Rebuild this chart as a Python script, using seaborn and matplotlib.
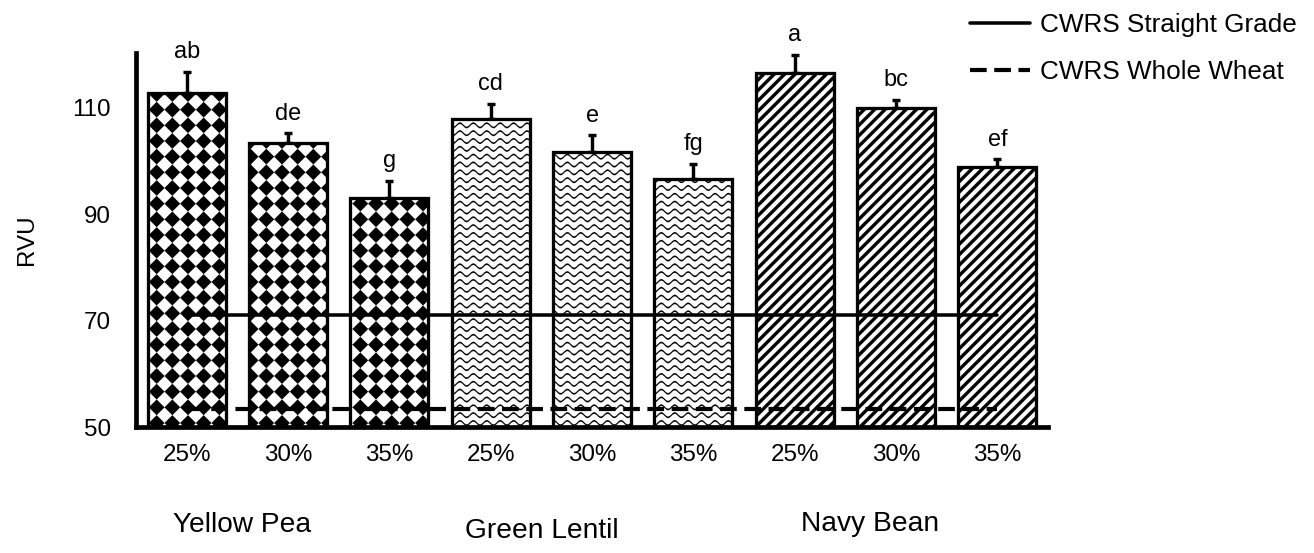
import numpy as np
import pandas as pd
import matplotlib
matplotlib.use("Agg")
import matplotlib.pyplot as plt
import matplotlib.hatch as mhatch
from matplotlib.path import Path
import seaborn as sns

# ---------------- data ----------------
pulses = ["Yellow Pea", "Green Lentil", "Navy Bean"]
levels = ["25%", "30%", "35%"]
rvu_mean = [112.8, 103.3, 93.0, 107.8, 101.7, 96.6, 116.5, 110.0, 98.8]
rvu_err = [3.9, 1.9, 3.2, 2.9, 3.1, 2.8, 3.4, 1.5, 1.5]
letters = ["ab", "de", "g", "cd", "e", "fg", "a", "bc", "ef"]
reference_names = ["CWRS Straight Grade", "CWRS Whole Wheat"]
reference_rvu = [71.05, 53.3]
yticks = [50, 70, 90, 110]


# ---------------- custom fill patterns ----------------
MOVE, LINE, CLOSE = Path.MOVETO, Path.LINETO, Path.CLOSEPOLY


class DiamondGrid(mhatch.HatchPatternBase):
    """Square grid of filled diamonds ('o' in the hatch string)."""
    cells = 6
    scale = 0.5

    def __init__(self, hatch, density):
        n = self.cells + 1
        self.num_vertices = n * n * 5 if "o" in hatch else 0

    def set_vertices_and_codes(self, vertices, codes):
        step = 1.0 / self.cells
        r = self.scale * step
        shape = np.array([[0, -r], [r, 0], [0, r], [-r, 0], [0, -r]])
        k = 0
        for i in range(self.cells + 1):
            for j in range(self.cells + 1):
                vertices[k:k + 5] = shape + [i * step, j * step]
                codes[k:k + 5] = [MOVE, LINE, LINE, LINE, CLOSE]
                k += 5


class WavyLines(mhatch.HatchPatternBase):
    """Thin horizontal sine waves ('O' in the hatch string)."""
    rows = 12
    periods = 7
    samples = 16
    amp = 0.023
    thick = 0.017

    def __init__(self, hatch, density):
        self.npts = self.periods * self.samples + 1
        self.num_vertices = ((self.rows + 1) * (2 * self.npts + 1)
                             if "O" in hatch else 0)

    def set_vertices_and_codes(self, vertices, codes):
        x = np.linspace(0, 1, self.npts)
        wave = self.amp * np.sin(2 * np.pi * self.periods * x)
        half = self.thick / 2
        n = 2 * self.npts + 1
        k = 0
        for j in range(self.rows + 1):
            y0 = j / self.rows
            top = np.column_stack([x, y0 + wave + half])
            bot = np.column_stack([x[::-1], y0 + wave[::-1] - half])
            vertices[k:k + n] = np.vstack([top, bot, top[:1]])
            codes[k:k + n] = [MOVE] + [LINE] * (n - 2) + [CLOSE]
            k += n


class DiagonalBands(mhatch.HatchPatternBase):
    """Bold '/' stripes ('.' in the hatch string)."""
    bands = 9
    frac = 0.45

    def __init__(self, hatch, density):
        self.num_vertices = 2 * self.bands * 5 if "." in hatch else 0

    def set_vertices_and_codes(self, vertices, codes):
        w = self.frac / self.bands
        k = 0
        for i in range(-self.bands, self.bands):
            x0 = i / self.bands
            vertices[k:k + 5] = [[x0, 0], [x0 + w, 0], [x0 + w + 1, 1],
                                 [x0 + 1, 1], [x0, 0]]
            codes[k:k + 5] = [MOVE, LINE, LINE, LINE, CLOSE]
            k += 5


mhatch._hatch_types[:] = [
    t for t in mhatch._hatch_types
    if t not in (mhatch.SmallCircles, mhatch.LargeCircles, mhatch.SmallFilledCircles)
] + [DiamondGrid, WavyLines, DiagonalBands]

pulse_hatch = {"Yellow Pea": "o", "Green Lentil": "O", "Navy Bean": "."}

# ---------------- style ----------------
sns.set_theme(style="white")
plt.rcParams["font.family"] = ["Liberation Sans", "DejaVu Sans"]
plt.rcParams["hatch.linewidth"] = 0.05
plt.rcParams["axes.edgecolor"] = "black"
plt.rcParams["text.color"] = "black"
plt.rcParams["axes.labelcolor"] = "black"
plt.rcParams["xtick.color"] = "black"
plt.rcParams["ytick.color"] = "black"

DPI = 94
fig = plt.figure(figsize=(1314 / DPI, 553 / DPI), dpi=DPI)
ax = fig.add_axes([0.1035, 0.2278, 0.6941, 0.6764])

df = pd.DataFrame({
    "pulse": np.repeat(pulses, len(levels)),
    "level": np.tile(levels, len(pulses)),
    "rvu": rvu_mean,
    "err": rvu_err,
    "letter": letters,
})
df["key"] = df["pulse"] + " " + df["level"]
positions = np.arange(len(df))

sns.barplot(data=df, x="key", y="rvu", order=list(df["key"]), errorbar=None,
            color="white", saturation=1, edgecolor="black", linewidth=2.5,
            width=0.77, ax=ax, zorder=2)

for bar, pulse in zip(ax.patches, df["pulse"]):
    bar.set_hatch(pulse_hatch[pulse])
    bar.set_edgecolor("black")

# one-sided (upper) error bars
ax.errorbar(positions, df["rvu"], yerr=[np.zeros(len(df)), df["err"]],
            fmt="none", ecolor="black", elinewidth=2.6, capsize=3.4,
            capthick=2.6, zorder=1.5)

# significance letters above the error bars
for x, top, lab in zip(positions, df["rvu"] + df["err"], df["letter"]):
    ax.annotate(lab, (x, top), xytext=(0, 10.5), textcoords="offset points",
                ha="center", va="baseline", fontsize=18)

# wheat flour reference levels
ref_styles = [dict(linestyle="-", linewidth=2.7),
              dict(linestyle=(0, (4.0, 1.8)), linewidth=3.2)]
handles = []
for name, val, style in zip(reference_names, reference_rvu, ref_styles):
    ln, = ax.plot([positions[0], positions[-1]], [val, val], color="black",
                  label=name, zorder=3, **style)
    handles.append(ln)

ax.legend(handles=handles, labels=reference_names, loc="upper left",
          bbox_to_anchor=(970 / 1314, 0.977), bbox_transform=fig.transFigure,
          frameon=False, fontsize=20, borderpad=0, borderaxespad=0,
          handlelength=2.3, handletextpad=0.4, labelspacing=0.89)

# axes
ax.set_xlim(-0.5, len(df) - 0.5)
ax.set_ylim(50, 120.3)
ax.set_yticks(yticks)
ax.set_xticks(positions)
ax.set_xticklabels(df["level"])
ax.tick_params(axis="x", length=0, pad=13, labelsize=18.5)
ax.tick_params(axis="y", length=0, pad=19.5, labelsize=18.5)
ax.set_xlabel("")
ax.set_ylabel("RVU", fontsize=18.5)
ax.yaxis.set_label_coords(-0.1195, 0.5)
ax.yaxis.label.set_va("center")

for side in ("top", "right"):
    ax.spines[side].set_visible(False)
for side in ("left", "bottom"):
    ax.spines[side].set_linewidth(3.6)
    ax.spines[side].set_capstyle("projecting")
    ax.spines[side].set_zorder(4)

# pulse group names below the percentage labels
group_x = [0.55, 3.5, 6.74]
group_y = [0.0506, 0.0398, 0.0524]
trans = matplotlib.transforms.blended_transform_factory(ax.transData, fig.transFigure)
for name, gx, gy in zip(pulses, group_x, group_y):
    ax.text(gx, gy, name, transform=trans, ha="center", va="center",
            fontsize=21.5)

fig.savefig("out.png", dpi=DPI, facecolor="white")
